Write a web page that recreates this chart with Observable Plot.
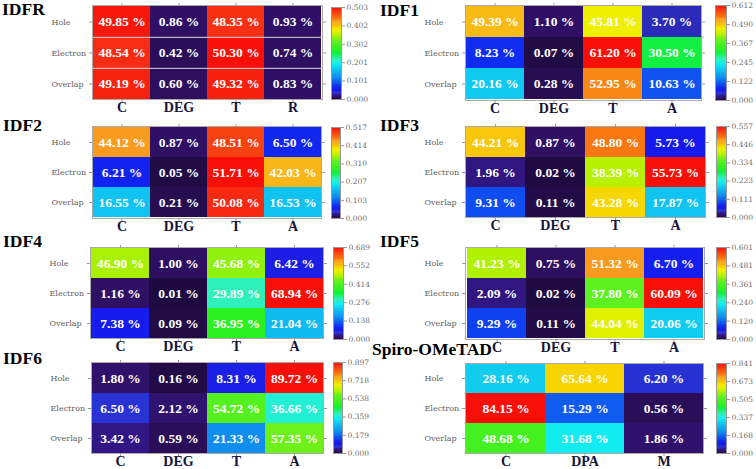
<!DOCTYPE html>
<html>
<head>
<meta charset="utf-8">
<script src="https://cdn.jsdelivr.net/npm/d3@7"></script>
<script src="https://cdn.jsdelivr.net/npm/@observablehq/plot@0.6"></script>
<style>
  html, body { margin: 0; padding: 0; background: #fff; }
  #root { position: relative; width: 756px; height: 469px; overflow: hidden; background: #fff; }
  .title { position: absolute; font-family: "Liberation Serif", serif; font-weight: bold; font-size: 17.5px; line-height: 17.5px; color: #000; white-space: nowrap; }
  .box { position: absolute; }
</style>
</head>
<body>
<div id="root"></div>
<script>
// ---------- data ----------
const rows = ["Hole", "Electron", "Overlap"];
const colsR = ["C", "DEG", "T", "R"];
const colsA = ["C", "DEG", "T", "A"];
const colsS = ["C", "DPA", "M"];

const IDFR = [[49.85, 0.86, 48.35, 0.93], [48.54, 0.42, 50.30, 0.74], [49.19, 0.60, 49.32, 0.83]];
const IDF1 = [[49.39, 1.10, 45.81, 3.70], [8.23, 0.07, 61.20, 30.50], [20.16, 0.28, 52.95, 10.63]];
const IDF2 = [[44.12, 0.87, 48.51, 6.50], [6.21, 0.05, 51.71, 42.03], [16.55, 0.21, 50.08, 16.53]];
const IDF3 = [[44.21, 0.87, 48.80, 5.73], [1.96, 0.02, 38.39, 55.73], [9.31, 0.11, 43.28, 17.87]];
const IDF4 = [[46.90, 1.00, 45.68, 6.42], [1.16, 0.01, 29.89, 68.94], [7.38, 0.09, 36.95, 21.04]];
const IDF5 = [[41.23, 0.75, 51.32, 6.70], [2.09, 0.02, 37.80, 60.09], [9.29, 0.11, 44.04, 20.06]];
const IDF6 = [[1.80, 0.16, 8.31, 89.72], [6.50, 2.12, 54.72, 36.66], [3.42, 0.59, 21.33, 57.35]];
const SPIRO = [[28.16, 65.64, 6.20], [84.15, 15.29, 0.56], [48.68, 31.68, 1.86]];

const ticksIDFR = [0, 0.101, 0.201, 0.302, 0.402, 0.503];
const ticksIDF1 = [0, 0.122, 0.245, 0.367, 0.490, 0.612];
const ticksIDF2 = [0, 0.103, 0.207, 0.310, 0.414, 0.517];
const ticksIDF3 = [0, 0.111, 0.223, 0.334, 0.446, 0.557];
const ticksIDF4 = [0, 0.138, 0.276, 0.414, 0.552, 0.689];
const ticksIDF5 = [0, 0.120, 0.240, 0.361, 0.481, 0.601];
const ticksIDF6 = [0, 0.179, 0.359, 0.538, 0.718, 0.897];
const ticksSPIRO = [0, 0.168, 0.337, 0.505, 0.673, 0.841];

// colormap (fraction of max -> colour)
const cmapStops = [0, 0.006, 0.018, 0.04, 0.07, 0.10, 0.13, 0.17, 0.24, 0.31, 0.34, 0.38, 0.43, 0.50, 0.54, 0.63, 0.69, 0.75, 0.78, 0.81, 0.85, 0.875, 0.94, 0.965, 1];
const cmapColors = ["#1e0a40", "#2a0e56", "#301066", "#301888", "#2a34d0", "#1818ec", "#1028f0", "#1050f0", "#1090f0", "#10bcf0", "#10d0f0", "#10eef0", "#30f0c0", "#10f040", "#30f020", "#60f020", "#b8f000", "#f0f000", "#f8d400", "#f8b818", "#f8a020", "#f87810", "#f84010", "#f82c14", "#f81008"];

// ---------- layout ----------
const panels = [
  {title: "IDFR", vals: IDFR, cols: colsR, ticks: ticksIDFR, tx: 2, ty: 16, hx: [92, 322], hy: [5, 99], cx: [331, 341], cy: [7, 99], sep: true},
  {title: "IDF1", vals: IDF1, cols: colsA, ticks: ticksIDF1, tx: 380, ty: 17, hx: [465, 701], hy: [5, 100], cx: [715, 726], cy: [5, 100]},
  {title: "IDF2", vals: IDF2, cols: colsA, ticks: ticksIDF2, tx: 3, ty: 132, hx: [92, 321], hy: [126, 218], cx: [331, 340], cy: [127, 218]},
  {title: "IDF3", vals: IDF3, cols: colsA, ticks: ticksIDF3, tx: 380, ty: 132, hx: [465, 705], hy: [126, 217], cx: [716, 726], cy: [126, 217]},
  {title: "IDF4", vals: IDF4, cols: colsA, ticks: ticksIDF4, tx: 3, ty: 248, hx: [90, 323], hy: [247, 338], cx: [333, 343], cy: [247, 339]},
  {title: "IDF5", vals: IDF5, cols: colsA, ticks: ticksIDF5, tx: 380, ty: 248, hx: [465, 704], hy: [247, 339], cx: [716, 726], cy: [247, 339]},
  {title: "IDF6", vals: IDF6, cols: colsA, ticks: ticksIDF6, tx: 3, ty: 365, hx: [91, 323], hy: [362, 453], cx: [333, 342], cy: [362, 453]},
  {title: "Spiro-OMeTAD", vals: SPIRO, cols: colsS, ticks: ticksSPIRO, tx: 372, ty: 356, hx: [465, 703], hy: [363, 453], cx: [716, 726], cy: [363, 453]}
];

const root = document.getElementById("root");
const serif = "Liberation Serif, Times New Roman, serif";
const small = "DejaVu Serif, serif";

function colorScale(max) {
  return {type: "linear", domain: cmapStops.map(s => s * max), range: cmapColors, interpolate: "rgb", clamp: true};
}

function place(el, left, top) {
  const d = document.createElement("div");
  d.className = "box";
  d.style.left = left + "px";
  d.style.top = top + "px";
  d.appendChild(el);
  root.appendChild(d);
}

function heat(p) {
  const data = [];
  rows.forEach((r, i) => p.cols.forEach((c, j) => data.push({row: r, col: c, pct: p.vals[i][j]})));
  const max = p.ticks[p.ticks.length - 1];
  const mL = 45, mR = 6, mT = 5, mB = 20;
  const w = p.hx[1] - p.hx[0], h = p.hy[1] - p.hy[0];
  const svg = Plot.plot({
    width: w + mL + mR, height: h + mT + mB,
    marginLeft: mL, marginRight: mR, marginTop: mT, marginBottom: mB,
    x: {type: "band", domain: p.cols, padding: 0, label: null},
    y: {type: "band", domain: rows, padding: 0, label: null},
    color: colorScale(max),
    style: {background: "transparent", overflow: "visible", maxWidth: "none"},
    marks: [
      Plot.cell(data, {x: "col", y: "row", fill: d => d.pct / 100, insetLeft: -0.3, insetRight: -0.3, insetTop: -0.3, insetBottom: -0.3, shapeRendering: "crispEdges"}),
      p.sep ? Plot.ruleY(rows.slice(1), {y: d => d, dy: -(p.hy[1] - p.hy[0]) / 6, stroke: "#d8d8d8", strokeWidth: 1}) : null,
      Plot.frame({stroke: "#aaa"}),
      Plot.axisX({anchor: "top", tickSize: 3, tickFormat: () => "", stroke: "#999", label: null}),
      Plot.axisX({anchor: "bottom", tickSize: 3, tickPadding: 0, fontSize: 14, fontWeight: "bold", fontFamily: serif, fill: "#14143c", stroke: "#999", label: null}),
      Plot.axisY({anchor: "left", tickSize: 3, tickFormat: () => "", stroke: "#999", label: null}),
      Plot.axisY({anchor: "right", tickSize: 3, tickFormat: () => "", stroke: "#999", label: null}),
      Plot.text(rows, {y: d => d, frameAnchor: "left", dx: -41, textAnchor: "start", fontSize: 8, fontFamily: small, fill: "#5e5e5e"}),
      Plot.text(data, {x: "col", y: "row", text: d => d.pct.toFixed(2) + " %", fill: "white", fontSize: 13.5, fontWeight: "bold", fontFamily: serif})
    ]
  });
  place(svg, p.hx[0] - mL, p.hy[0] - mT);
}

function cbar(p) {
  const max = p.ticks[p.ticks.length - 1];
  const mL = 1, mR = 34, mT = 4, mB = 4;
  const w = p.cx[1] - p.cx[0], h = p.cy[1] - p.cy[0];
  const N = 120;
  const steps = d3.range(N);
  const svg = Plot.plot({
    width: w + mL + mR, height: h + mT + mB,
    marginLeft: mL, marginRight: mR, marginTop: mT, marginBottom: mB,
    x: {domain: [0, 1], axis: null},
    y: {domain: [0, max], axis: null},
    color: colorScale(max),
    style: {background: "transparent", overflow: "visible", maxWidth: "none"},
    marks: [
      Plot.rect(steps, {x1: 0, x2: 1, y1: d => d * max / N, y2: d => Math.min(max, (d + 1.4) * max / N), fill: d => (d + 0.5) * max / N, shapeRendering: "crispEdges"}),
      Plot.frame({stroke: "#999"}),
      Plot.axisY(p.ticks, {anchor: "right", tickSize: 3, tickPadding: 2, tickFormat: d3.format(".3f"), fontSize: 7.5, fontFamily: small, fill: "#6e6e6e", stroke: "#999", label: null})
    ]
  });
  place(svg, p.cx[0] - mL, p.cy[0] - mT);
}

function title(p) {
  const d = document.createElement("div");
  d.className = "title";
  d.textContent = p.title;
  d.style.left = p.tx + "px";
  d.style.top = (p.ty - 14.7) + "px";
  root.appendChild(d);
}

panels.forEach(p => { heat(p); cbar(p); });
panels.forEach(title);
</script>
</body>
</html>
